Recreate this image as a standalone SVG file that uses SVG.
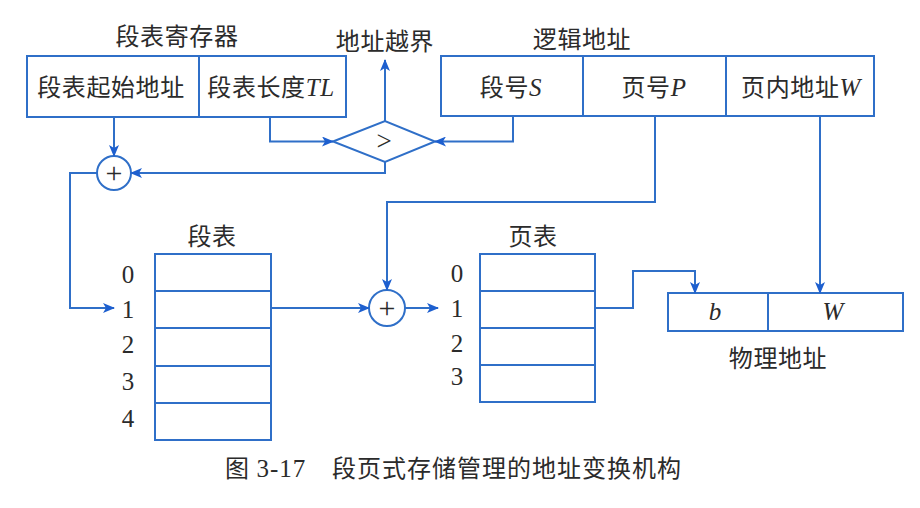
<svg xmlns="http://www.w3.org/2000/svg" width="920" height="508" viewBox="0 0 920 508">
<defs>
<style>
.box{fill:#fff;stroke:#2f6fc8;stroke-width:2}
.ln{fill:none;stroke:#2f6fc8;stroke-width:2}
.cn{fill:none;stroke:#2f6fc8;stroke-width:2}
.t{font-family:"Noto Sans CJK SC","Liberation Serif",sans-serif;font-size:24px;letter-spacing:0.6px;fill:#2b2b2b;text-anchor:middle}
.c{font-family:"Noto Sans CJK SC","Liberation Serif",sans-serif;font-size:24px;letter-spacing:1px;fill:#2b2b2b;text-anchor:start}
.n{font-family:"Liberation Serif",serif;font-size:25px;fill:#2b2b2b;text-anchor:middle}
.i{font-family:"Liberation Serif",serif;font-style:italic;font-size:25px}
.op{font-family:"Liberation Serif",serif;fill:#2b2b2b;text-anchor:middle}
</style>
<marker id="ar" markerWidth="12" markerHeight="10" refX="11" refY="5" orient="auto" markerUnits="userSpaceOnUse">
<path d="M0,0 L12,5 L0,10 L3,5 Z" fill="#1d5fcf"/>
</marker>
</defs>
<rect width="920" height="508" fill="#fff"/>

<g id="seg-register">
<text class="t" x="177" y="45">段表寄存器</text>
<rect class="box" x="27" y="56" width="319" height="61"/>
<line class="ln" x1="199" y1="56" x2="199" y2="117"/>
<text class="t" x="111" y="96">段表起始地址</text>
<text class="t" x="271" y="96">段表长度<tspan class="i">TL</tspan></text>
</g>

<g id="logical-address">
<text class="t" x="582" y="48">逻辑地址</text>
<rect class="box" x="441" y="56" width="433" height="60"/>
<line class="ln" x1="583" y1="56" x2="583" y2="116"/>
<line class="ln" x1="726" y1="56" x2="726" y2="116"/>
<text class="t" x="511" y="96">段号<tspan class="i">S</tspan></text>
<text class="t" x="654" y="96">页号<tspan class="i">P</tspan></text>
<text class="t" x="801" y="96">页内地址<tspan class="i">W</tspan></text>
</g>

<g id="overflow-label">
<text class="t" x="385" y="50">地址越界</text>
</g>

<g id="compare">
<polygon class="box" points="333,141.5 385,121 435,141.5 385,162"/>
<text class="op" x="384" y="150" font-size="27">&gt;</text>
</g>

<g id="adder1">
<circle class="box" cx="114" cy="173" r="17"/>
<text class="op" x="114" y="183" font-size="30">+</text>
</g>

<g id="segment-table">
<text class="t" x="212" y="245">段表</text>
<rect class="box" x="155" y="254" width="116" height="186"/>
<line class="ln" x1="155" y1="291" x2="271" y2="291"/>
<line class="ln" x1="155" y1="328" x2="271" y2="328"/>
<line class="ln" x1="155" y1="366" x2="271" y2="366"/>
<line class="ln" x1="155" y1="403" x2="271" y2="403"/>
<text class="n" x="128" y="283">0</text>
<text class="n" x="128" y="318">1</text>
<text class="n" x="128" y="353">2</text>
<text class="n" x="128" y="390">3</text>
<text class="n" x="128" y="427">4</text>
</g>

<g id="adder2">
<circle class="box" cx="387" cy="308" r="18"/>
<text class="op" x="387" y="318" font-size="30">+</text>
</g>

<g id="page-table">
<text class="t" x="533" y="245">页表</text>
<rect class="box" x="480" y="254" width="115" height="148"/>
<line class="ln" x1="480" y1="291" x2="595" y2="291"/>
<line class="ln" x1="480" y1="328" x2="595" y2="328"/>
<line class="ln" x1="480" y1="365" x2="595" y2="365"/>
<text class="n" x="457" y="282">0</text>
<text class="n" x="457" y="317">1</text>
<text class="n" x="457" y="352">2</text>
<text class="n" x="457" y="385">3</text>
</g>

<g id="physical-address">
<rect class="box" x="668" y="293" width="235" height="38"/>
<line class="ln" x1="768" y1="293" x2="768" y2="331"/>
<text class="n i" x="715" y="320">b</text>
<text class="n i" x="833" y="320">W</text>
<text class="t" x="778" y="367">物理地址</text>
</g>

<g id="connectors">
<path class="cn" d="M114,117 V156" marker-end="url(#ar)"/>
<path class="cn" d="M270,117 V141.5 H333" marker-end="url(#ar)"/>
<path class="cn" d="M513,116 V141.5 H435" marker-end="url(#ar)"/>
<path class="cn" d="M385,121 V60" marker-end="url(#ar)"/>
<path class="cn" d="M385,162 V173 H131" marker-end="url(#ar)"/>
<path class="cn" d="M97,173 H70 V308 H114" marker-end="url(#ar)"/>
<path class="cn" d="M271,308 H369" marker-end="url(#ar)"/>
<path class="cn" d="M655,116 V202 H387 V290" marker-end="url(#ar)"/>
<path class="cn" d="M405,308 H438" marker-end="url(#ar)"/>
<path class="cn" d="M595,308 H633 V271 H695 V293" marker-end="url(#ar)"/>
<path class="cn" d="M820,116 V293" marker-end="url(#ar)"/>
</g>

<g id="caption">
<text class="c" x="225" y="477">图 <tspan font-family="Liberation Serif" font-size="25">3-17</tspan></text>
<text class="c" x="332" y="477">段页式存储管理的地址变换机构</text>
</g>
</svg>
